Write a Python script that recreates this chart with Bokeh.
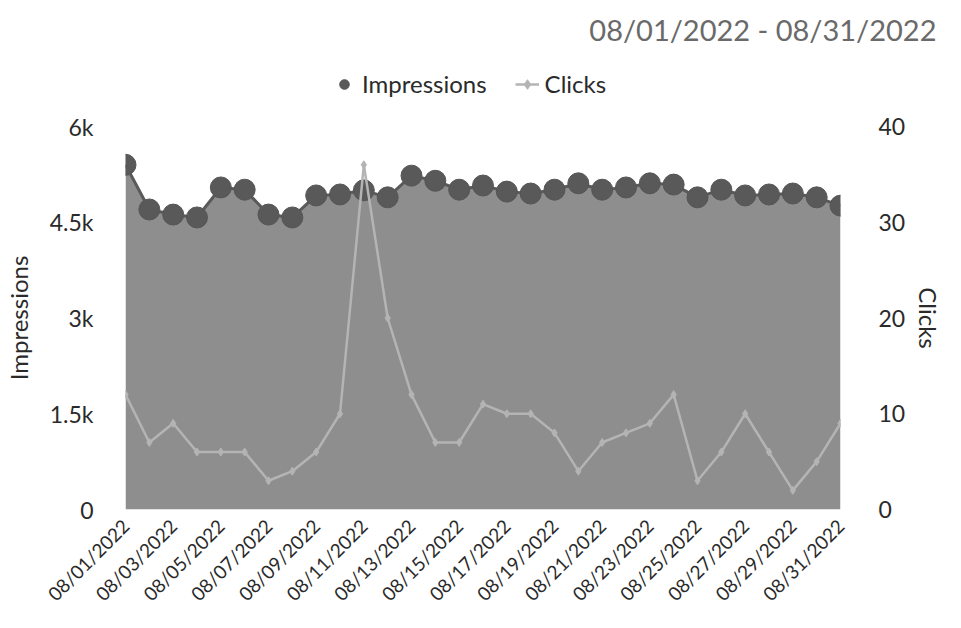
import pandas as pd
from bokeh.plotting import figure
from bokeh.layouts import column
from bokeh.models import (LinearAxis, Range1d, FixedTicker, DatetimeTickFormatter,
                          Legend, LegendItem, ColumnDataSource)
from bokeh.embed import file_html
from bokeh.resources import INLINE
import math

title_text = "08/01/2022 - 08/31/2022"
dates = pd.date_range("2022-08-01", "2022-08-31", freq="D")
impressions = [5400, 4700, 4620, 4575, 5045, 5010, 4620, 4575, 4920, 4935, 5000,
               4890, 5230, 5150, 5010, 5075, 4980, 4950, 5010, 5110, 5010, 5045,
               5110, 5090, 4890, 5010, 4920, 4935, 4950, 4890, 4760]
clicks = [12, 7, 9, 6, 6, 6, 3, 4, 6, 10, 36, 20, 12, 7, 7, 11, 10, 10, 8, 4, 7,
          8, 9, 12, 3, 6, 10, 6, 2, 5, 9]
tick_dates = dates[::2]
y_ticks = [0, 1500, 3000, 4500, 6000]
y_labels = {0: "0", 1500: "1.5k", 3000: "3k", 4500: "4.5k", 6000: "6k"}
y2_ticks = [0, 10, 20, 30, 40]

FONT = "Lato"
TXT = "#2a2a2a"
IMP_COLOR = "#595959"
CLK_COLOR = "#b4b4b4"

src = ColumnDataSource(dict(x=dates, imp=impressions, clk=clicks))

# ---- header: title + legend ----
header = figure(width=945, height=106, x_range=(0, 1), y_range=(0, 1),
                output_backend="svg", toolbar_location=None,
                x_axis_location=None, y_axis_location=None,
                min_border=0, min_border_top=50)
header.outline_line_color = None
header.grid.visible = False
header.title.text = title_text
header.title.align = "right"
header.title.offset = -106
header.title.standoff = 7
header.title.text_font = FONT
header.title.text_font_size = "29px"
header.title.text_font_style = "normal"
header.title.text_color = "#6a6a6a"

# legend keys (off-screen points so the keys are drawn)
key_src = ColumnDataSource(dict(x=[-10, -9], y=[-10, -10]))
lg_imp = header.scatter("x", "y", source=key_src, size=23, marker="circle",
                        fill_color=IMP_COLOR, line_color="#555555")
lg_clk_line = header.line("x", "y", source=key_src, line_color=CLK_COLOR, line_width=2.5)
lg_clk_pts = header.scatter("x", "y", source=key_src, size=17, marker="diamond",
                            fill_color=CLK_COLOR, line_color=CLK_COLOR)
legend = Legend(items=[LegendItem(label="Impressions", renderers=[lg_imp]),
                       LegendItem(label="Clicks", renderers=[lg_clk_line, lg_clk_pts])],
                orientation="horizontal", location=(207, 8),
                label_text_font=FONT, label_text_font_size="24px",
                label_text_color=TXT, border_line_color=None,
                background_fill_alpha=0, glyph_width=24, glyph_height=24,
                spacing=28, label_standoff=6, margin=0, padding=0)
header.add_layout(legend, "center")

# ---- main chart ----
p = figure(frame_width=715, frame_height=383, x_axis_type="datetime",
           x_range=Range1d(dates[0], dates[-1]), y_range=Range1d(0, 6000),
           output_backend="svg", toolbar_location=None,
           min_border_left=115, min_border_right=115,
           min_border_top=20, min_border_bottom=100)
p.outline_line_color = None
p.grid.visible = False
p.background_fill_color = "white"

p.extra_y_ranges = {"clicks": Range1d(0, 40)}

p.varea(x="x", y1=0, y2="imp", source=src, fill_color="#8e8e8e", fill_alpha=1.0)
p.line("x", "imp", source=src, line_color="#5a5a5a", line_width=3)
p.scatter("x", "imp", source=src, size=21, marker="circle",
          fill_color=IMP_COLOR, line_color="#555555")
p.line("x", "clk", source=src, line_color=CLK_COLOR, line_width=2.5,
       y_range_name="clicks")
p.scatter("x", "clk", source=src, size=8, marker="diamond",
          fill_color=CLK_COLOR, line_color=CLK_COLOR, y_range_name="clicks")

xa = p.xaxis[0]
xa.ticker = FixedTicker(ticks=[d.timestamp() * 1000 for d in tick_dates])
xa.formatter = DatetimeTickFormatter(days="%m/%d/%Y", months="%m/%d/%Y", hours="%m/%d/%Y")
xa.major_label_orientation = math.pi / 4
xa.axis_line_color = None
xa.major_tick_line_color = None
xa.minor_tick_line_color = None
xa.major_label_text_font = FONT
xa.major_label_text_font_size = "19px"
xa.major_label_text_color = TXT
xa.major_label_standoff = 7

ya = p.yaxis[0]
ya.ticker = FixedTicker(ticks=y_ticks)
ya.major_label_overrides = y_labels
ya.axis_label = "Impressions"
ya.axis_line_color = None
ya.major_tick_line_color = None
ya.minor_tick_line_color = None
ya.major_label_text_font = FONT
ya.major_label_text_font_size = "23px"
ya.major_label_text_color = TXT
ya.major_label_standoff = 26
ya.axis_label_text_font = FONT
ya.axis_label_text_font_size = "24px"
ya.axis_label_text_font_style = "normal"
ya.axis_label_text_color = TXT
ya.axis_label_standoff = 14

y2 = LinearAxis(y_range_name="clicks", ticker=FixedTicker(ticks=y2_ticks),
                axis_label="Clicks")
y2.axis_line_color = None
y2.major_tick_line_color = None
y2.minor_tick_line_color = None
y2.major_label_text_font = FONT
y2.major_label_text_font_size = "23px"
y2.major_label_text_color = TXT
y2.major_label_standoff = 32
y2.axis_label_text_font = FONT
y2.axis_label_text_font_size = "24px"
y2.axis_label_text_font_style = "normal"
y2.axis_label_text_color = TXT
y2.axis_label_standoff = 6
p.add_layout(y2, "right")

layout = column(header, p, spacing=0)
open("out.html", "w").write(file_html(layout, INLINE))
